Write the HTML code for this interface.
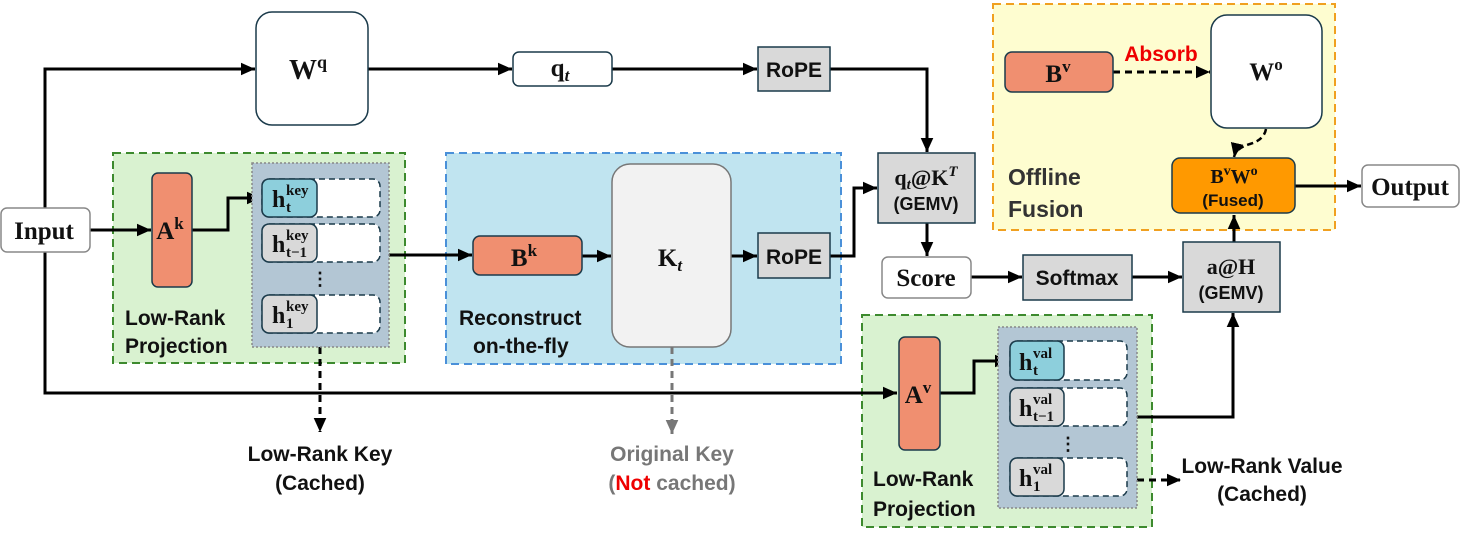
<!DOCTYPE html>
<html><head><meta charset="utf-8"><style>
html,body{margin:0;padding:0;background:#fff}
svg{display:block}
.l{font-family:"Liberation Sans","DejaVu Sans",sans-serif;font-weight:bold;font-size:21px;fill:#111}
.m{font-family:"Liberation Serif","DejaVu Serif",serif;font-weight:bold;fill:#111}
.s{font-size:15px}
</style></head><body>
<svg width="1461" height="534" viewBox="0 0 1461 534" xmlns="http://www.w3.org/2000/svg">
<defs>
<marker id="a" viewBox="0 0 10 10" refX="10" refY="5" markerWidth="14" markerHeight="14" orient="auto" markerUnits="userSpaceOnUse"><path d="M0,0.5 L10,5 L0,9.5 z" fill="#000"/></marker>
<marker id="g" viewBox="0 0 10 10" refX="10" refY="5" markerWidth="14" markerHeight="14" orient="auto" markerUnits="userSpaceOnUse"><path d="M0,0.5 L10,5 L0,9.5 z" fill="#777"/></marker>
</defs>

<rect x="113" y="153" width="292" height="210" fill="#d9f2d0" stroke="#3d8a2e" stroke-width="2" stroke-dasharray="8,5"/>
<rect x="446" y="153" width="395" height="211" fill="#c0e4f0" stroke="#4a90d9" stroke-width="2" stroke-dasharray="8,5"/>
<rect x="993" y="4" width="342" height="226" fill="#fefdd0" stroke="#f0a020" stroke-width="2" stroke-dasharray="8,5"/>
<rect x="862" y="315" width="290" height="212" fill="#d9f2d0" stroke="#3d8a2e" stroke-width="2" stroke-dasharray="8,5"/>

<g fill="none" stroke="#000" stroke-width="3">
<path d="M45,252 V393 H897" marker-end="url(#a)"/>
<path d="M45,208 V69 H255" marker-end="url(#a)"/>
<path d="M90,230 H151" marker-end="url(#a)"/>
<path d="M368,69 H512" marker-end="url(#a)"/>
<path d="M612,69 H757" marker-end="url(#a)"/>
<path d="M830,69 H927 V152" marker-end="url(#a)"/>
<path d="M192,230 H228 V198 H261" marker-end="url(#a)"/>
<path d="M389,255 H472" marker-end="url(#a)"/>
<path d="M582,256 H611" marker-end="url(#a)"/>
<path d="M731,256 H757" marker-end="url(#a)"/>
<path d="M830,256 H854 V188 H877" marker-end="url(#a)"/>
<path d="M927,223 V256" marker-end="url(#a)"/>
<path d="M971,277 H1022" marker-end="url(#a)"/>
<path d="M1132,277 H1182" marker-end="url(#a)"/>
<path d="M1234,242 V215" marker-end="url(#a)"/>
<path d="M1295,186 H1361" marker-end="url(#a)"/>
<path d="M940,393 H974 V361 H1009" marker-end="url(#a)"/>
<path d="M1137,417 H1233 V313" marker-end="url(#a)"/>
<path d="M320,347 V432" stroke-dasharray="7,5" marker-end="url(#a)"/>
<path d="M1137,480 H1181" stroke-dasharray="7,5" marker-end="url(#a)"/>
<path d="M1113,72 H1210" stroke-dasharray="7,5" marker-end="url(#a)"/>
<path d="M1266,129 Q1264,140 1250,144 Q1236,148 1234,157" stroke-dasharray="6,4" marker-end="url(#a)" stroke-width="2.5"/>
<path d="M672,347 V434" stroke="#777" stroke-dasharray="7,5" marker-end="url(#g)"/>
</g>

<rect x="1" y="208" width="89" height="44" rx="6" fill="#fff" stroke="#888" stroke-width="1.5"/>
<text x="44" y="239" class="m" font-size="25" text-anchor="middle">Input</text>
<rect x="1362" y="165" width="97" height="42" rx="6" fill="#fff" stroke="#888" stroke-width="1.5"/>
<text x="1410" y="195" class="m" font-size="25" text-anchor="middle">Output</text>

<rect x="256" y="12" width="112" height="113" rx="16" fill="#fff" stroke="#1a3a4a" stroke-width="1.5"/>
<text x="308" y="79" class="m" font-size="28" text-anchor="middle">W<tspan font-size="18" dy="-11">q</tspan></text>
<rect x="513" y="52" width="99" height="34" rx="6" fill="#fff" stroke="#1a3a4a" stroke-width="1.5"/>
<text x="560" y="76" class="m" font-size="25" text-anchor="middle">q<tspan font-size="17" font-style="italic" dy="5">t</tspan></text>
<rect x="758" y="47" width="72" height="44" fill="#d9d9d9" stroke="#1a3a4a" stroke-width="1.5"/>
<text x="794" y="77" class="l" text-anchor="middle">RoPE</text>
<rect x="758" y="233" width="72" height="45" fill="#d9d9d9" stroke="#1a3a4a" stroke-width="1.5"/>
<text x="794" y="264" class="l" text-anchor="middle">RoPE</text>

<rect x="152" y="173" width="40" height="114" rx="6" fill="#f08f70" stroke="#1a3a4a" stroke-width="1.5"/>
<text x="170" y="239" class="m" font-size="25" text-anchor="middle">A<tspan font-size="17" dy="-10">k</tspan></text>
<rect x="252" y="163" width="137" height="184" fill="#b3c6d4" stroke="#888" stroke-width="1.5" stroke-dasharray="2,2"/>
<g stroke="#1a3a4a" stroke-width="1.5">
<rect x="262" y="179" width="118" height="38" rx="7" fill="#fff" stroke-dasharray="6,4"/>
<rect x="262" y="179" width="55" height="38" rx="7" fill="#8dcfdc"/>
<rect x="262" y="224" width="118" height="38" rx="7" fill="#fff" stroke-dasharray="6,4"/>
<rect x="262" y="224" width="55" height="38" rx="7" fill="#d9d9d9"/>
<rect x="262" y="295" width="118" height="38" rx="7" fill="#fff" stroke-dasharray="6,4"/>
<rect x="262" y="295" width="55" height="38" rx="7" fill="#d9d9d9"/>
</g>
<text x="272" y="207" class="m" font-size="24">h</text><text x="286" y="195" class="m s">key</text><text x="286" y="212" class="m s">t</text>
<text x="272" y="252" class="m" font-size="24">h</text><text x="286" y="240" class="m s">key</text><text x="286" y="257" class="m s">t−1</text>
<text x="272" y="323" class="m" font-size="24">h</text><text x="286" y="311" class="m s">key</text><text x="286" y="328" class="m s">1</text>
<text x="320" y="285" class="m" font-size="18" text-anchor="middle">⋮</text>
<text x="125" y="325" class="l">Low-Rank</text>
<text x="125" y="353" class="l">Projection</text>

<rect x="473" y="236" width="109" height="39" rx="7" fill="#f08f70" stroke="#1a3a4a" stroke-width="1.5"/>
<text x="524" y="266" class="m" font-size="25" text-anchor="middle">B<tspan font-size="17" dy="-10">k</tspan></text>
<rect x="612" y="164" width="119" height="183" rx="18" fill="#f2f2f2" stroke="#777" stroke-width="1.5"/>
<text x="670" y="266" class="m" font-size="25" text-anchor="middle">K<tspan font-size="17" font-style="italic" dy="5">t</tspan></text>
<text x="459" y="325" class="l">Reconstruct</text>
<text x="473" y="353" class="l">on-the-fly</text>

<text x="320" y="461" class="l" text-anchor="middle">Low-Rank Key</text>
<text x="320" y="490" class="l" text-anchor="middle">(Cached)</text>
<text x="672" y="461" class="l" text-anchor="middle" style="fill:#777">Original Key</text>
<text x="672" y="490" class="l" text-anchor="middle" style="fill:#777">(<tspan style="fill:#e00">Not</tspan> cached)</text>

<rect x="878" y="153" width="97" height="70" fill="#d9d9d9" stroke="#1a3a4a" stroke-width="1.5"/>
<text x="926" y="185" class="m" font-size="22" text-anchor="middle">q<tspan font-size="15" font-style="italic" dy="4">t</tspan><tspan dy="-4">@K</tspan><tspan font-size="15" font-style="italic" dy="-9">T</tspan></text>
<text x="926" y="210" class="l" style="font-size:18px" text-anchor="middle">(GEMV)</text>
<rect x="882" y="257" width="89" height="41" rx="6" fill="#fff" stroke="#888" stroke-width="1.5"/>
<text x="926" y="286" class="m" font-size="25" text-anchor="middle">Score</text>
<rect x="1023" y="255" width="109" height="45" fill="#d9d9d9" stroke="#1a3a4a" stroke-width="1.5"/>
<text x="1077" y="285" class="l" text-anchor="middle">Softmax</text>
<rect x="1183" y="242" width="97" height="70" fill="#d9d9d9" stroke="#1a3a4a" stroke-width="1.5"/>
<text x="1231" y="274" class="m" font-size="22" text-anchor="middle">a@H</text>
<text x="1231" y="299" class="l" style="font-size:18px" text-anchor="middle">(GEMV)</text>

<rect x="1005" y="52" width="108" height="40" rx="7" fill="#f08f70" stroke="#1a3a4a" stroke-width="1.5"/>
<text x="1058" y="82" class="m" font-size="25" text-anchor="middle">B<tspan font-size="17" dy="-10">v</tspan></text>
<text x="1161" y="61" class="l" text-anchor="middle" style="fill:#e00;font-size:21px">Absorb</text>
<rect x="1211" y="15" width="111" height="113" rx="16" fill="#fff" stroke="#1a3a4a" stroke-width="1.5"/>
<text x="1266" y="80" class="m" font-size="25" text-anchor="middle">W<tspan font-size="17" dy="-10">o</tspan></text>
<rect x="1172" y="158" width="123" height="55" rx="8" fill="#ff9900" stroke="#1a3a4a" stroke-width="1.5"/>
<text x="1234" y="183" class="m" font-size="20" text-anchor="middle">B<tspan font-size="14" dy="-8">v</tspan><tspan dy="8">W</tspan><tspan font-size="14" dy="-8">o</tspan></text>
<text x="1233" y="206" class="l" style="font-size:17px" text-anchor="middle">(Fused)</text>
<text x="1008" y="185" class="l" style="fill:#333;font-size:23px">Offline</text>
<text x="1008" y="217" class="l" style="fill:#333;font-size:23px">Fusion</text>

<rect x="899" y="337" width="41" height="113" rx="6" fill="#f08f70" stroke="#1a3a4a" stroke-width="1.5"/>
<text x="918" y="403" class="m" font-size="25" text-anchor="middle">A<tspan font-size="17" dy="-10">v</tspan></text>
<rect x="998" y="327" width="139" height="181" fill="#b3c6d4" stroke="#888" stroke-width="1.5" stroke-dasharray="2,2"/>
<g stroke="#1a3a4a" stroke-width="1.5">
<rect x="1010" y="341" width="117" height="39" rx="7" fill="#fff" stroke-dasharray="6,4"/>
<rect x="1010" y="341" width="54" height="39" rx="7" fill="#8dcfdc"/>
<rect x="1010" y="388" width="117" height="38" rx="7" fill="#fff" stroke-dasharray="6,4"/>
<rect x="1010" y="388" width="54" height="38" rx="7" fill="#d9d9d9"/>
<rect x="1010" y="458" width="117" height="38" rx="7" fill="#fff" stroke-dasharray="6,4"/>
<rect x="1010" y="458" width="54" height="38" rx="7" fill="#d9d9d9"/>
</g>
<text x="1019" y="370" class="m" font-size="24">h</text><text x="1033" y="358" class="m s">val</text><text x="1033" y="375" class="m s">t</text>
<text x="1019" y="416" class="m" font-size="24">h</text><text x="1033" y="404" class="m s">val</text><text x="1033" y="421" class="m s">t−1</text>
<text x="1019" y="486" class="m" font-size="24">h</text><text x="1033" y="474" class="m s">val</text><text x="1033" y="491" class="m s">1</text>
<text x="1068" y="450" class="m" font-size="18" text-anchor="middle">⋮</text>
<text x="873" y="486" class="l">Low-Rank</text>
<text x="873" y="516" class="l">Projection</text>
<text x="1262" y="473" class="l" text-anchor="middle">Low-Rank Value</text>
<text x="1262" y="501" class="l" text-anchor="middle">(Cached)</text>
</svg>
</body></html>
